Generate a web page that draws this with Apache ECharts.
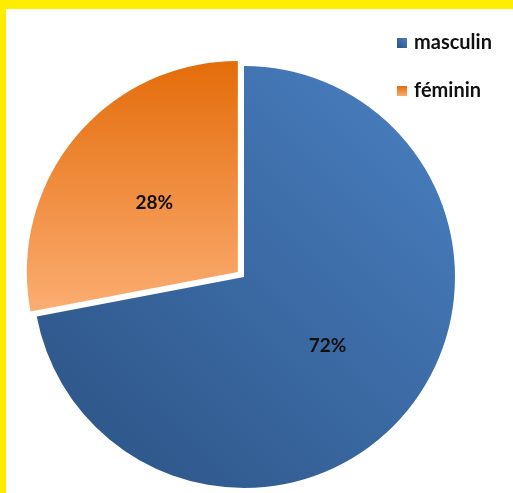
<!DOCTYPE html>
<html>
<head>
<meta charset="utf-8">
<script src="https://cdn.jsdelivr.net/npm/echarts@6/dist/echarts.min.js"></script>
<style>
html, body { margin: 0; padding: 0; background: #fff; }
#chart { width: 513px; height: 493px; }
</style>
</head>
<body>
<div id="chart"></div>
<script>
// données
var categories = ['masculin', 'féminin'];
var values = [72, 28];

var colors = [
    // bleu : clair en haut à droite, foncé en bas à gauche
    new echarts.graphic.LinearGradient(1, 0, 0, 1, [
        { offset: 0, color: '#4a80c2' },
        { offset: 1, color: '#2b5283' }
    ]),
    // orange : foncé en haut, clair en bas
    new echarts.graphic.LinearGradient(0, 0, 0, 1, [
        { offset: 0, color: '#e46c0a' },
        { offset: 1, color: '#fbad72' }
    ])
];

var myChart = echarts.init(document.getElementById('chart'));

var option = {
    animation: false,
    legend: {
        orient: 'vertical',
        left: 392,
        top: 28,
        itemWidth: 10,
        itemHeight: 10,
        itemGap: 28,
        icon: 'rect',
        selectedMode: false,
        textStyle: {
            fontFamily: 'Lato',
            fontWeight: 'bold',
            fontSize: 20,
            color: '#111',
            padding: [0, 0, 0, 2]
        },
        data: categories
    },
    graphic: [
        // cadre jaune (haut et gauche)
        { type: 'rect', left: 0, top: 0, shape: { width: 513, height: 9 }, style: { fill: '#ffed00' }, z: 10 },
        { type: 'rect', left: 0, top: 0, shape: { width: 6, height: 493 }, style: { fill: '#ffed00' }, z: 10 }
    ],
    series: [{
        type: 'pie',
        center: [244, 277],
        radius: 211,
        startAngle: 90,
        clockwise: true,
        selectedMode: 'single',
        selectedOffset: 8,
        silent: true,
        label: {
            position: 'inside',
            formatter: '{c}%',
            fontFamily: 'Lato',
            fontWeight: 'bold',
            fontSize: 19,
            color: '#111'
        },
        labelLine: { show: false },
        data: categories.map(function (name, i) {
            return {
                name: name,
                value: values[i],
                selected: i === 1,
                itemStyle: { color: colors[i] }
            };
        })
    }]
};

myChart.setOption(option);

window.addEventListener('resize', function () {
    myChart.resize();
});
</script>
</body>
</html>
